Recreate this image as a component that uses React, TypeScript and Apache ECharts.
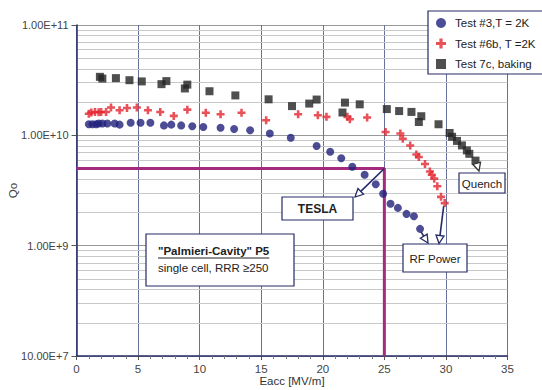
import React, { useEffect, useRef } from 'react';
import * as echarts from 'echarts';

// Test #3, T = 2K (blue circles)
const test3X = [1.0, 1.3, 1.6, 1.8, 2.1, 2.5, 3.1, 3.5, 4.4, 5.2, 6.0, 7.1, 7.7, 8.5, 9.4, 10.3, 11.7, 12.8, 14.1, 15.7, 17.4, 19.5, 20.6, 21.5, 22.4, 23.4, 24.3, 24.9, 25.5, 26.1, 26.8, 27.4, 27.9];
const test3Q = [1.26e10, 1.26e10, 1.26e10, 1.28e10, 1.28e10, 1.28e10, 1.28e10, 1.25e10, 1.3e10, 1.3e10, 1.3e10, 1.23e10, 1.25e10, 1.23e10, 1.21e10, 1.19e10, 1.17e10, 1.14e10, 1.11e10, 1.04e10, 9.5e9, 8.0e9, 7.1e9, 6.2e9, 5.2e9, 4.4e9, 3.6e9, 2.95e9, 2.4e9, 2.2e9, 1.94e9, 1.85e9, 1.42e9];

// Test #6b, T = 2K (red crosses)
const test6bX = [1.0, 1.2, 1.5, 1.8, 2.0, 2.4, 2.8, 3.5, 4.1, 4.9, 5.8, 6.8, 7.9, 9.0, 10.5, 11.7, 13.4, 15.4, 18.0, 19.6, 20.3, 22.0, 22.2, 23.6, 25.1, 26.3, 26.5, 27.1, 27.6, 27.8, 28.3, 28.7, 28.85, 29.05, 29.3, 29.6, 29.9];
const test6bQ = [1.57e10, 1.61e10, 1.63e10, 1.62e10, 1.63e10, 1.63e10, 1.79e10, 1.69e10, 1.77e10, 1.79e10, 1.69e10, 1.63e10, 1.5e10, 1.71e10, 1.6e10, 1.55e10, 1.6e10, 1.37e10, 1.55e10, 1.52e10, 1.47e10, 1.47e10, 1.4e10, 1.45e10, 1.07e10, 1.04e10, 9.3e9, 8.1e9, 6.7e9, 6.35e9, 5.5e9, 4.7e9, 4.4e9, 4.05e9, 3.45e9, 2.77e9, 2.43e9];

// Test 7c, baking (black squares)
const test7cX = [1.9, 2.1, 3.2, 4.3, 5.3, 6.9, 7.3, 8.8, 9.0, 10.8, 12.9, 15.6, 17.5, 18.9, 19.5, 21.6, 21.8, 23.0, 25.2, 26.2, 27.2, 28.0, 27.8, 29.4, 30.3, 30.5, 30.9, 31.3, 31.7, 31.9, 32.4];
const test7cQ = [3.39e10, 3.27e10, 3.3e10, 3.16e10, 3.08e10, 2.91e10, 3.1e10, 2.66e10, 2.88e10, 2.51e10, 2.3e10, 2.12e10, 1.84e10, 1.94e10, 2.11e10, 1.61e10, 1.98e10, 1.91e10, 1.73e10, 1.66e10, 1.63e10, 1.49e10, 1.32e10, 1.26e10, 1.05e10, 9.7e9, 8.9e9, 8.1e9, 7.3e9, 6.8e9, 5.9e9];

// TESLA specification path
const teslaX = [0, 25, 25];
const teslaQ = [5e9, 5e9, 1e8];

const seriesNames = ['Test #3,T = 2K', 'Test #6b, T =2K', 'Test 7c, baking'];
const yTickLabels: Record<number, string> = { 8: '10.00E+7', 9: '1.00E+9', 10: '1.00E+10', 11: '1.00E+11' };
const minorDecades = [1e8, 1e9, 1e10];
const minorSteps = [2, 3, 4, 5, 6, 7, 8, 9];

const FONT = "'Liberation Sans', Arial, Helvetica, sans-serif";
const CROSS = 'path://M3.4,0H6.6V3.4H10V6.6H6.6V10H3.4V6.6H0V3.4H3.4Z';
const NAVY = '#262b66';

const zip = (xs: number[], ys: number[]) => xs.map((x, i) => [x, ys[i]]);

export default function App() {
  const ref = useRef<HTMLDivElement>(null);
  useEffect(() => {
    document.body.style.margin = '0';
    const chart = echarts.init(ref.current!, null, { renderer: 'svg' });
    const minorVals: number[] = [];
    minorDecades.forEach((d) => minorSteps.forEach((s) => minorVals.push(d * s)));
    chart.setOption({
      animation: false,
      backgroundColor: '#fff',
      textStyle: { fontFamily: FONT },
      grid: { left: 76.5, right: 34.5, top: 25, bottom: 34, containLabel: false, outerBoundsMode: 'none' },
      legend: {
        orient: 'vertical',
        left: 428,
        top: 11,
        padding: [6, 40, 4, 8],
        itemGap: 8.5,
        itemWidth: 10,
        itemHeight: 10,
        backgroundColor: '#fff',
        borderColor: NAVY,
        borderWidth: 1.2,
        textStyle: { fontFamily: FONT, fontSize: 11.5, color: '#222', padding: [0, 0, 0, 4] },
        data: [
          { name: seriesNames[0], icon: 'circle' },
          { name: seriesNames[1], icon: CROSS },
          { name: seriesNames[2], icon: 'rect' },
        ],
      },
      xAxis: {
        type: 'value',
        min: 0,
        max: 35,
        interval: 5,
        name: 'Eacc [MV/m]',
        nameLocation: 'middle',
        nameGap: 19,
        nameMoveOverlap: false,
        nameTextStyle: { fontFamily: FONT, fontSize: 11.5, color: '#333' },
        axisLine: { show: true, lineStyle: { color: NAVY, width: 1.5 } },
        axisTick: { show: true, length: 4, lineStyle: { color: '#555' } },
        minorTick: { show: true, splitNumber: 5, length: 3, lineStyle: { color: '#777' } },
        axisLabel: { fontFamily: FONT, fontSize: 11.5, color: '#444', margin: 7 },
        splitLine: { show: true, lineStyle: { color: '#66709a', width: 1 } },
      },
      yAxis: {
        type: 'log',
        logBase: 10,
        min: 1e8,
        max: 1e11,
        name: 'Qo',
        nameLocation: 'middle',
        nameGap: 58,
        nameMoveOverlap: false,
        nameTextStyle: { fontFamily: FONT, fontSize: 11.5, color: '#444' },
        axisLine: { show: true, lineStyle: { color: NAVY, width: 1.5 } },
        axisTick: { show: true, length: 5, lineStyle: { color: '#555' } },
        axisLabel: {
          fontFamily: FONT,
          fontSize: 11,
          color: '#444',
          margin: 8,
          formatter: (v: number) => yTickLabels[Math.round(Math.log10(v))] ?? '',
        },
        splitLine: { show: true, lineStyle: { color: '#999', width: 1 } },
      },
      series: [
        {
          type: 'line',
          name: 'minor-grid',
          data: [],
          silent: true,
          z: 0,
          markLine: {
            silent: true,
            z: 0,
            symbol: ['none', 'none'],
            label: { show: false },
            lineStyle: { color: '#c8c8c8', type: 'solid', width: 1 },
            data: minorVals.map((v) => ({ yAxis: v })),
          },
        },
        {
          type: 'line',
          name: 'TESLA',
          data: zip(teslaX, teslaQ),
          symbol: 'none',
          silent: true,
          z: 1,
          lineStyle: { color: '#a42a80', width: 3 },
        },
        {
          type: 'scatter',
          name: seriesNames[0],
          data: zip(test3X, test3Q),
          symbol: 'circle',
          symbolSize: 8,
          z: 3,
          itemStyle: { color: '#20207a' },
        },
        {
          type: 'scatter',
          name: seriesNames[1],
          data: zip(test6bX, test6bQ),
          symbol: CROSS,
          symbolSize: 8,
          z: 3,
          itemStyle: { color: '#e3252f' },
        },
        {
          type: 'scatter',
          name: seriesNames[2],
          data: zip(test7cX, test7cQ),
          symbol: 'rect',
          symbolSize: 8,
          z: 3,
          itemStyle: { color: '#232323' },
        },
      ],
    });

    const px = (x: number, y: number) => chart.convertToPixel({ gridIndex: 0 }, [x, y]) as number[];
    const els: any[] = [];
    const arrow = (p0: number[], p1: number[], color: string) => {
      const dx = p1[0] - p0[0];
      const dy = p1[1] - p0[1];
      const L = Math.sqrt(dx * dx + dy * dy) || 1;
      const ux = dx / L, uy = dy / L;
      const hl = 8, hw = 4;
      const bx = p1[0] - ux * hl, by = p1[1] - uy * hl;
      const nx = -uy, ny = ux;
      els.push({ type: 'line', z: 100, shape: { x1: p0[0], y1: p0[1], x2: bx, y2: by }, style: { stroke: color, lineWidth: 1.6 } });
      els.push({
        type: 'polygon', z: 101,
        shape: { points: [[p1[0], p1[1]], [bx + nx * hw, by + ny * hw], [bx - nx * hw, by - ny * hw]] },
        style: { fill: '#fff', stroke: color, lineWidth: 1.3 },
      });
    };
    const box = (x: number, y: number, w: number, h: number) => {
      els.push({ type: 'rect', z: 100, shape: { x, y, width: w, height: h }, style: { fill: '#fff', stroke: NAVY, lineWidth: 1.2 } });
    };
    const text = (x: number, y: number, t: string, size: number, bold: boolean, align = 'center') => {
      els.push({
        type: 'text', z: 102, x, y,
        style: { text: t, fontFamily: FONT, fontSize: size, fontWeight: bold ? 'bold' : 'normal', fill: '#222', align, verticalAlign: 'middle' },
      });
    };

    // TESLA
    const corner = px(25, 5e9);
    arrow(corner, [355, 197], NAVY);
    box(282, 197, 71, 23);
    text(317.5, 209, 'TESLA', 12, true);

    // Palmieri box
    box(146, 234, 148, 52);
    const t1 = '"Palmieri-Cavity" P5';
    text(158, 251, t1, 11.5, true, 'left');
    const ctx = document.createElement('canvas').getContext('2d')!;
    ctx.font = `bold 11.5px ${FONT}`;
    const w1 = ctx.measureText(t1).width;
    els.push({ type: 'line', z: 102, shape: { x1: 158, y1: 258, x2: 158 + w1, y2: 258 }, style: { stroke: '#222', lineWidth: 1 } });
    text(158, 268, 'single cell, RRR \u2265250', 11.5, false, 'left');

    // Quench
    const lastSq = px(test7cX[test7cX.length - 1], test7cQ[test7cQ.length - 1]);
    arrow([lastSq[0] + 1, lastSq[1] + 2], [479, 171], '#333');
    box(459, 173, 46, 20);
    text(482, 183.5, 'Quench', 11.5, false);

    // RF Power
    const lastCirc = px(test3X[test3X.length - 1], test3Q[test3Q.length - 1]);
    const lastCross = px(test6bX[test6bX.length - 1], test6bQ[test6bQ.length - 1]);
    arrow([lastCirc[0] + 1, lastCirc[1] + 3], [428, 243], NAVY);
    arrow([lastCross[0] - 1, lastCross[1] + 3], [439, 243.5], NAVY);
    box(403, 244, 64, 28);
    text(435, 258.5, 'RF Power', 11.5, false);

    chart.setOption({ graphic: els });
    return () => chart.dispose();
  }, []);
  return <div ref={ref} style={{ position: 'absolute', left: 0, top: 0, width: 542, height: 390 }} />;
}
